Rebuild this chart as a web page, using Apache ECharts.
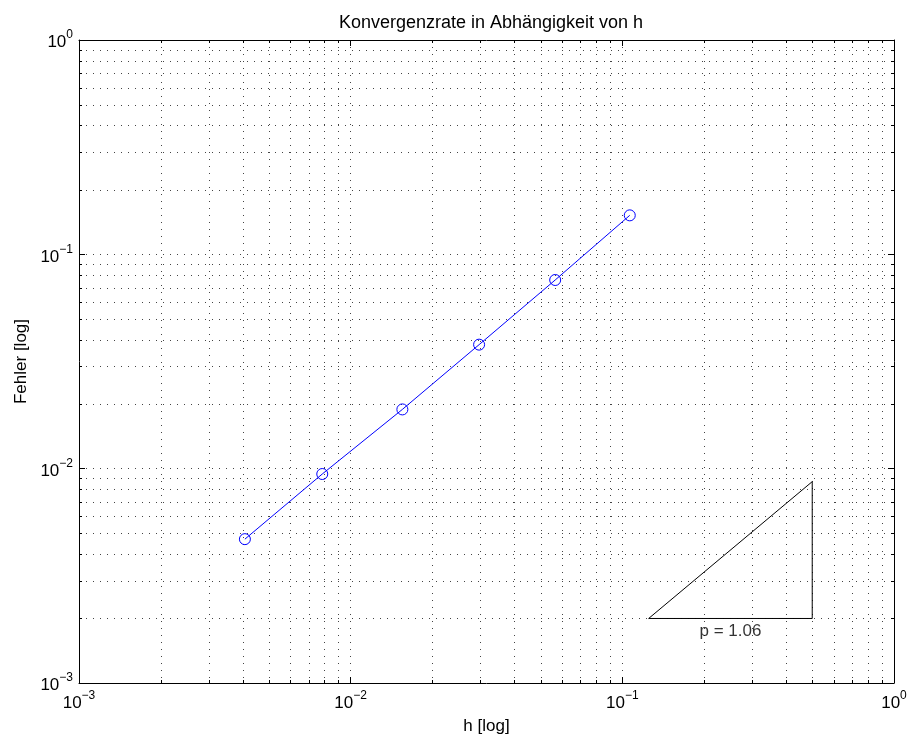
<!DOCTYPE html>
<html>
<head>
<meta charset="utf-8">
<script src="https://cdn.jsdelivr.net/npm/echarts@6/dist/echarts.min.js"></script>
<style>
  html, body { margin: 0; padding: 0; background: #fff; }
  #chart { width: 911px; height: 742px; }
</style>
</head>
<body>
<div id="chart"></div>
<script>
// Step size h and measured error
const hValues = [0.00408, 0.00786, 0.0155, 0.0297, 0.0566, 0.1065];
const errValues = [0.00469, 0.00944, 0.0189, 0.0379, 0.0759, 0.152];

// Slope triangle (reference order p)
const triangleX = [0.125, 0.5, 0.5, 0.125];
const triangleY = [0.002, 0.002, 0.0087, 0.002];
const slopeLabelPos = [0.25, 0.002];
const slopeText = 'p = 1.06';

// Axis ranges (decades)
const xRange = [0.001, 1];
const yRange = [0.001, 1];
const minorMultipliers = [2, 3, 4, 5, 6, 7, 8, 9];

const FONT = '"Liberation Sans", Arial, sans-serif';
const GRID_COLOR = '#444';
const GRID_DASH = [1, 6];

function decadeValues(range) {
  const out = [];
  for (let e = Math.round(Math.log10(range[0])); e < Math.round(Math.log10(range[1])); e++) {
    out.push(Math.pow(10, e));
  }
  return out;
}
function minorValues(range) {
  const out = [];
  decadeValues(range).forEach(d => minorMultipliers.forEach(m => out.push(m * d)));
  return out;
}
function powLabel(v) {
  const e = Math.round(Math.log10(v));
  const exp = e < 0 ? '\u2212' + (-e) : String(e);
  return '{b|10}{s|' + exp + '}';
}
const labelRich = {
  b: { fontFamily: FONT, fontSize: 17, color: '#000', verticalAlign: 'bottom', lineHeight: 22 },
  s: { fontFamily: FONT, fontSize: 12, color: '#000', verticalAlign: 'top', lineHeight: 22 }
};

const xMinor = minorValues(xRange);
const yMinor = minorValues(yRange);

// Minor log grid and minor ticks, positioned through the axis scales
function renderMinorGrid(params, api) {
  const cs = params.coordSys;
  const left = cs.x, top = cs.y, right = cs.x + cs.width, bottom = cs.y + cs.height;
  const children = [];
  const dotted = { stroke: GRID_COLOR, lineWidth: 1, lineDash: GRID_DASH };
  const tick = { stroke: '#000', lineWidth: 1 };
  const tl = 3;
  xMinor.forEach(v => {
    const x = Math.round(api.coord([v, yRange[0]])[0]) + 0.5;
    children.push({ type: 'line', shape: { x1: x, y1: top, x2: x, y2: bottom }, style: dotted, silent: true });
    children.push({ type: 'line', shape: { x1: x, y1: bottom, x2: x, y2: bottom - tl }, style: tick, silent: true });
    children.push({ type: 'line', shape: { x1: x, y1: top, x2: x, y2: top + tl }, style: tick, silent: true });
  });
  yMinor.forEach(v => {
    const y = Math.round(api.coord([xRange[0], v])[1]) + 0.5;
    children.push({ type: 'line', shape: { x1: left, y1: y, x2: right, y2: y }, style: dotted, silent: true });
    children.push({ type: 'line', shape: { x1: left, y1: y, x2: left + tl, y2: y }, style: tick, silent: true });
    children.push({ type: 'line', shape: { x1: right, y1: y, x2: right - tl, y2: y }, style: tick, silent: true });
  });
  return { type: 'group', children: children };
}

const chart = echarts.init(document.getElementById('chart'), null, { renderer: 'canvas' });

const baseAxis = {
  type: 'log',
  logBase: 10,
  interval: 1,
  axisLine: { show: true, onZero: false, lineStyle: { color: '#000', width: 1 } },
  axisTick: { show: true, inside: true, length: 6, lineStyle: { color: '#000' } },
  minorTick: { show: false },
  splitLine: { show: false }
};

chart.setOption({
  animation: false,
  backgroundColor: '#fff',
  title: {
    text: 'Konvergenzrate in Abhängigkeit von h',
    left: 486, top: 9, textAlign: 'center',
    textStyle: { fontFamily: FONT, fontSize: 18, fontWeight: 'normal', color: '#000' }
  },
  grid: { left: 79, right: 17, top: 40, bottom: 59, containLabel: false },
  xAxis: [
    Object.assign({}, baseAxis, {
      min: xRange[0], max: xRange[1], position: 'bottom',
      name: 'h [log]', nameLocation: 'middle', nameGap: 35,
      nameTextStyle: { fontFamily: FONT, fontSize: 17, color: '#000', verticalAlign: 'top' },
      axisLabel: { margin: 7, formatter: powLabel, rich: labelRich },
      splitLine: { show: true, lineStyle: { color: GRID_COLOR, type: GRID_DASH, width: 1 } }
    }),
    Object.assign({}, baseAxis, {
      min: xRange[0], max: xRange[1], position: 'top',
      axisLabel: { show: false }
    })
  ],
  yAxis: [
    Object.assign({}, baseAxis, {
      min: yRange[0], max: yRange[1], position: 'left',
      name: 'Fehler [log]', nameLocation: 'middle', nameGap: 48, nameRotate: 90,
      nameTextStyle: { fontFamily: FONT, fontSize: 17, color: '#000' },
      axisLabel: { margin: 6, formatter: powLabel, rich: labelRich },
      splitLine: { show: true, lineStyle: { color: GRID_COLOR, type: GRID_DASH, width: 1 } }
    }),
    Object.assign({}, baseAxis, {
      min: yRange[0], max: yRange[1], position: 'right',
      axisLabel: { show: false }
    })
  ],
  series: [
    {
      type: 'custom',
      name: 'minorGrid',
      silent: true,
      z: 0,
      clip: false,
      renderItem: renderMinorGrid,
      data: [[0.01, 0.01]]
    },
    {
      type: 'line',
      name: 'Fehler',
      z: 5,
      data: hValues.map((h, i) => [h, errValues[i]]),
      symbol: 'circle',
      symbolSize: 11,
      showSymbol: true,
      lineStyle: { color: '#0000ff', width: 1 },
      itemStyle: { color: 'rgba(0,0,0,0)', borderColor: '#0000ff', borderWidth: 1 }
    },
    {
      type: 'line',
      name: 'Steigung',
      z: 4,
      data: triangleX.map((x, i) => [x, triangleY[i]]),
      symbol: 'none',
      lineStyle: { color: '#000', width: 1 }
    },
    {
      type: 'scatter',
      name: 'slopeLabel',
      z: 6,
      symbolSize: 0,
      data: [slopeLabelPos],
      label: {
        show: true, position: 'bottom', distance: 4,
        formatter: slopeText,
        fontFamily: FONT, fontSize: 17, color: '#000'
      }
    }
  ]
});
</script>
</body>
</html>
